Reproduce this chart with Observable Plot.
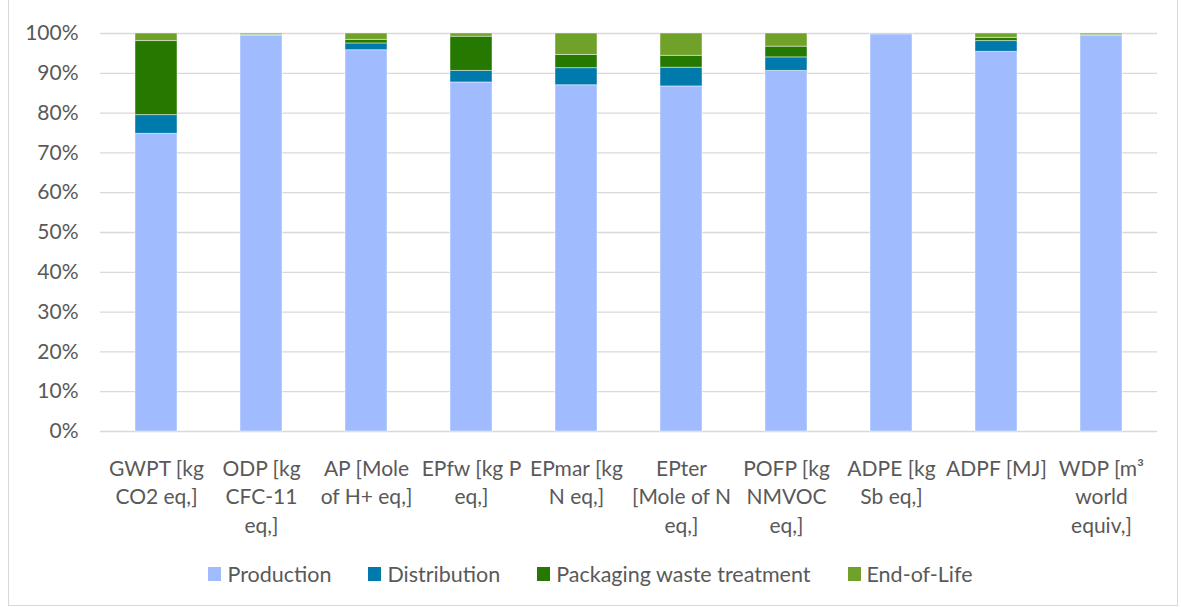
<!DOCTYPE html>
<html>
<head>
<meta charset="utf-8">
<script src="https://cdn.jsdelivr.net/npm/d3@7"></script>
<script src="https://cdn.jsdelivr.net/npm/@observablehq/plot@0.6"></script>
<style>
  html, body { margin: 0; padding: 0; background: #fff; }
  #wrap { position: relative; width: 1181px; height: 607px; overflow: hidden; font-family: Lato, sans-serif; }
  #frame { position: absolute; left: 8px; top: -1px; width: 1170px; height: 607px; border: 1px solid #d9d9d9; box-sizing: border-box; pointer-events: none; }
  #legend { display: flex; justify-content: center; align-items: center; margin-top: 16px; height: 26px; font-size: 21.5px; color: #595959; }
  .item { display: flex; align-items: center; margin: 0 18.5px; }
  .sw { width: 13px; height: 14px; margin-right: 6px; }
</style>
</head>
<body>
<div id="wrap">
  <div id="chart"></div>
  <div id="legend"></div>
  <div id="frame"></div>
</div>
<script>
const categories = [
  "GWPT [kg\nCO2 eq,]",
  "ODP [kg\nCFC-11\neq,]",
  "AP [Mole\nof H+ eq,]",
  "EPfw [kg P\neq,]",
  "EPmar [kg\nN eq,]",
  "EPter\n[Mole of N\neq,]",
  "POFP [kg\nNMVOC\neq,]",
  "ADPE [kg\nSb eq,]",
  "ADPF [MJ]",
  "WDP [m³\nworld\nequiv,]"
];
const stages = ["Production", "Distribution", "Packaging waste treatment", "End-of-Life"];
const production   = [74.8, 99.5, 95.8, 87.7, 87.0, 86.7, 90.6, 99.8, 95.4, 99.4];
const distribution = [ 4.7,  0.1,  1.7,  2.9,  4.3,  4.7,  3.4, 0.05,  2.7,  0.1];
const packaging    = [18.6,  0.1,  0.9,  8.6,  3.3,  3.0,  2.7, 0.05,  0.8,  0.2];
const endOfLife    = [ 1.9,  0.3,  1.6,  0.8,  5.4,  5.6,  3.3,  0.1,  1.1,  0.3];
const colors = ["#A0BCFE", "#0079AC", "#257800", "#70A22A"];
const yTicks = [0, 10, 20, 30, 40, 50, 60, 70, 80, 90, 100];

const seriesValues = [production, distribution, packaging, endOfLife];
const data = categories.flatMap((c, i) => stages.map((s, j) => ({cat: c, stage: s, value: seriesValues[j][i]})));

const chart = Plot.plot({
  width: 1181,
  height: 545,
  marginTop: 33,
  marginBottom: 114,
  marginLeft: 100,
  marginRight: 24,
  style: {fontFamily: "Lato, sans-serif", fontSize: "21px", color: "#595959", background: "transparent"},
  x: {domain: categories, paddingInner: 0.6, paddingOuter: 0.3, label: null},
  y: {domain: [0, 100], label: null},
  color: {domain: stages, range: colors},
  marks: [
    Plot.gridY(yTicks, {stroke: "#d9d9d9", strokeOpacity: 1, strokeWidth: 1.3}),
    Plot.barY(data, Plot.stackY({x: "cat", y: "value", fill: "stage", stroke: "white", strokeOpacity: 0.45, strokeWidth: 1, order: null})),
    Plot.axisY({ticks: yTicks, tickSize: 0, tickPadding: 22, tickFormat: d => d + "%", fill: "#595959", fontSize: 21}),
    Plot.axisX({tickSize: 0, tickPadding: 24, fill: "#595959", fontSize: 21, lineHeight: 1.36})
  ]
});
document.getElementById("chart").appendChild(chart);

const legend = document.getElementById("legend");
stages.forEach((s, j) => {
  const it = document.createElement("div");
  it.className = "item";
  const sw = document.createElement("div");
  sw.className = "sw";
  sw.style.background = colors[j];
  const tx = document.createElement("span");
  tx.textContent = s;
  it.appendChild(sw);
  it.appendChild(tx);
  legend.appendChild(it);
});
</script>
</body>
</html>
